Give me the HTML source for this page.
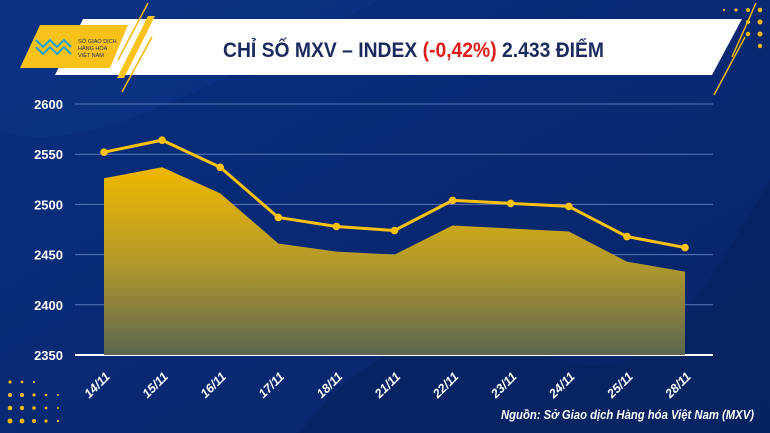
<!DOCTYPE html>
<html><head><meta charset="utf-8"><style>
html,body{margin:0;padding:0;width:770px;height:433px;overflow:hidden;background:#0b2b78}
svg{display:block}
text{font-family:"Liberation Sans",sans-serif}
</style></head><body>
<svg id="chart" width="770" height="433" viewBox="0 0 770 433">
<defs>
<linearGradient id="bg" x1="0" y1="0" x2="1" y2="1"><stop offset="0" stop-color="#0a2f80"/><stop offset="1" stop-color="#062466"/></linearGradient>
<linearGradient id="area" x1="0" y1="0" x2="0" y2="1"><stop offset="0" stop-color="#f0b800"/><stop offset="0.5" stop-color="#b59a2a"/><stop offset="1" stop-color="#5c6650"/></linearGradient>
</defs>
<rect width="770" height="433" fill="url(#bg)"/>
<path d="M300 433 C 380 330, 450 320, 560 360 C 650 390, 700 300, 770 180 L770 433 Z" fill="#06235f" opacity="0.7"/>
<path d="M0 130 C 80 160, 200 90, 380 0 L0 0 Z" fill="#0d3486" opacity="0.6"/>
<g fill="#f5b800">
<circle cx="10" cy="395" r="2"/><circle cx="22" cy="395" r="2"/><circle cx="34" cy="395" r="1.6"/><circle cx="46" cy="395" r="1.3"/><circle cx="58" cy="395" r="1"/>
<circle cx="10" cy="408" r="2.3"/><circle cx="22" cy="408" r="2.2"/><circle cx="34" cy="408" r="1.8"/><circle cx="46" cy="408" r="1.4"/><circle cx="58" cy="408" r="1"/>
<circle cx="10" cy="421" r="2.5"/><circle cx="22" cy="421" r="2.4"/><circle cx="34" cy="421" r="2"/><circle cx="46" cy="421" r="1.6"/><circle cx="58" cy="421" r="1.2"/>
<circle cx="10" cy="382" r="1.6"/><circle cx="22" cy="382" r="1.4"/><circle cx="34" cy="382" r="1.1"/>
<circle cx="760" cy="10" r="2.3"/><circle cx="748" cy="10" r="2"/><circle cx="736" cy="10" r="1.6"/><circle cx="724" cy="10" r="1.2"/>
<circle cx="760" cy="22" r="2.5"/><circle cx="748" cy="22" r="2.2"/><circle cx="736" cy="22" r="1.8"/><circle cx="724" cy="22" r="1.3"/>
<circle cx="760" cy="34" r="2.5"/><circle cx="748" cy="34" r="2.2"/><circle cx="760" cy="46" r="2.2"/>
</g>
<path d="M83 19 L742 19 L712 75 L55 75 Z" fill="#ffffff"/>
<path d="M40 25 L128 25 L110 68 L20 68 Z" fill="#f8c21a"/>
<path d="M148 16 L155 16 L124 78 L117 78 Z" fill="#f8c21a"/>
<line x1="148" y1="3" x2="118" y2="60" stroke="#f5b800" stroke-width="1.5"/>
<line x1="152" y1="37" x2="122" y2="92" stroke="#f5b800" stroke-width="1.5"/>
<line x1="756" y1="3" x2="732" y2="57" stroke="#f5b800" stroke-width="1.5"/>
<line x1="745" y1="37" x2="714" y2="95" stroke="#f5b800" stroke-width="1.5"/>
<g fill="none" stroke="#1aa0d8" stroke-width="2">
<path d="M36 40 L43 47 L50 40 L57 47 L64 40 L71 47 M36 47 L43 54 L50 47 L57 54 L64 47 L71 54"/>
</g>
<text x="78" y="43" font-size="5.5" fill="#1a2a5e">SỞ GIAO DỊCH</text>
<text x="78" y="50" font-size="5.5" fill="#1a2a5e">HÀNG HÓA</text>
<text x="78" y="57" font-size="5.5" fill="#1a2a5e">VIỆT NAM</text>
<text x="223" y="57" textLength="381" lengthAdjust="spacingAndGlyphs" font-size="21" font-weight="bold" fill="#1a2a5e">CHỈ SỐ MXV – INDEX <tspan fill="#e01b1b">(-0,42%)</tspan> 2.433 ĐIỂM</text>
<g id="grid"></g><g id="plot"></g>
<text x="501" y="419" textLength="253" lengthAdjust="spacingAndGlyphs" font-size="12.5" font-style="italic" font-weight="bold" fill="#ffffff">Nguồn: Sở Giao dịch Hàng hóa Việt Nam (MXV)</text>
</svg>
<script>
const categories=["14/11","15/11","16/11","17/11","18/11","21/11","22/11","23/11","24/11","25/11","28/11"];
const lineValues=[2552,2564,2537,2487,2478,2474,2504,2501,2498,2468,2457];
const areaValues=[2526,2537,2511,2461,2453,2450,2479,2476,2473,2443,2433];
const yTicks=[2350,2400,2450,2500,2550,2600];
const NS="http://www.w3.org/2000/svg";
const yMin=2350,yMax=2600,yBot=355,yTop=104,x0=104,x1=685;
const ys=v=>yBot-(v-yMin)/(yMax-yMin)*(yBot-yTop);
const xs=i=>x0+i*(x1-x0)/(categories.length-1);
function mk(tag,attrs,parent){const e=document.createElementNS(NS,tag);for(const k in attrs)e.setAttribute(k,attrs[k]);parent.appendChild(e);return e;}
const grid=document.getElementById('grid'),plot=document.getElementById('plot');
yTicks.forEach(t=>{
  const l=mk('line',{x1:75,x2:713,y1:ys(t),y2:ys(t),stroke:t===yMin?'#ffffff':'#5a78b8','stroke-width':t===yMin?2:1},grid);
  
  
  const tx=mk('text',{x:63,y:ys(t)+5,'text-anchor':'end','font-size':13,'font-weight':'bold',fill:'#ffffff'},grid);
  tx.textContent=t;
  
  
});
let d='M'+xs(0)+' '+yBot;
areaValues.forEach((v,i)=>{d+=' L'+xs(i)+' '+ys(v);});
d+=' L'+xs(areaValues.length-1)+' '+yBot+' Z';
const area=mk('path',{d:d,fill:'url(#area)'},plot);


const pts=lineValues.map((v,i)=>xs(i)+','+ys(v)).join(' ');
const line=mk('polyline',{points:pts,fill:'none',stroke:'#ffc20e','stroke-width':3,'stroke-linejoin':'round'},plot);


lineValues.forEach((v,i)=>{
  const c=mk('circle',{cx:xs(i),cy:ys(v),r:3.8,fill:'#ffc20e'},plot);
  
  
});
categories.forEach((c,i)=>{
  const x=xs(i)-4,y=388;
  const t=mk('text',{x:x,y:y,'text-anchor':'middle','font-size':12.5,'font-weight':'bold','font-style':'italic',fill:'#ffffff',transform:'rotate(-45 '+x+' '+y+')'},plot);
  t.textContent=c;
  
  
});
</script>
</body></html>
